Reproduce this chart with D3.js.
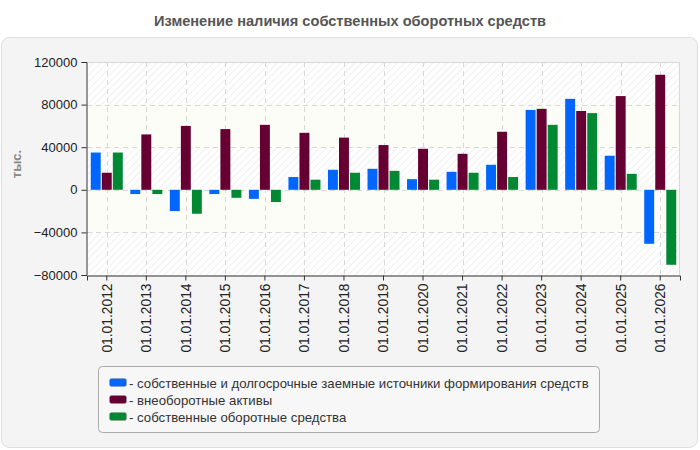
<!DOCTYPE html>
<html>
<head>
<meta charset="utf-8">
<script src="https://cdn.jsdelivr.net/npm/d3@7"></script>
<style>
  body { margin: 0; background: #fff; font-family: "Liberation Sans", Arial, sans-serif; }
</style>
</head>
<body>
<script>
var svgWidth = 700;
var svgHeight = 450;

// data
var dates = ["01.01.2012", "01.01.2013", "01.01.2014", "01.01.2015", "01.01.2016",
  "01.01.2017", "01.01.2018", "01.01.2019", "01.01.2020", "01.01.2021",
  "01.01.2022", "01.01.2023", "01.01.2024", "01.01.2025", "01.01.2026"];
var sources = [35000, -4000, -20000, -4000, -8500, 12000, 18800, 19700, 10000, 16900, 23500, 75000, 85400, 32000, -50700];
var nonCurrent = [16000, 52000, 60000, 57000, 61000, 53500, 49000, 42000, 38500, 33800, 54500, 76000, 74000, 88000, 108000];
var working = [35000, -4000, -22500, -7500, -11500, 9500, 16000, 17800, 9500, 16000, 12000, 61000, 72000, 15000, -70400];
var seriesNames = ["собственные и долгосрочные заемные источники формирования средств",
  "внеоборотные активы", "собственные оборотные средства"];
var seriesColors = ["#0066ff", "#660033", "#008833"];
var yTicks = [-80000, -40000, 0, 40000, 80000, 120000];

var plot = { left: 87, right: 680, top: 62, bottom: 275 };

var svg = d3.select("body").append("svg")
  .attr("width", svgWidth)
  .attr("height", svgHeight);

var defs = svg.append("defs");
var hatch = defs.append("pattern")
  .attr("id", "hatch")
  .attr("patternUnits", "userSpaceOnUse")
  .attr("width", 5).attr("height", 5)
  .attr("patternTransform", "rotate(45)");
hatch.append("rect").attr("width", 5).attr("height", 5).attr("fill", "#ffffff");
hatch.append("line")
  .attr("x1", 0).attr("y1", 0).attr("x2", 0).attr("y2", 5)
  .attr("stroke", "#ececec").attr("stroke-width", 1.5);

// title
svg.append("text")
  .attr("x", svgWidth / 2)
  .attr("y", 26)
  .attr("text-anchor", "middle")
  .style("font-size", "14.6px")
  .style("font-weight", "bold")
  .style("fill", "#555")
  .text("Изменение наличия собственных оборотных средств");

// panel
svg.append("rect")
  .attr("x", 1.5).attr("y", 37.5)
  .attr("width", 696).attr("height", 410)
  .attr("rx", 8)
  .attr("fill", "#f4f4f4")
  .attr("stroke", "#dedede");

var x = d3.scaleBand()
  .domain(dates)
  .range([plot.left, plot.right]);

var groupWidth = 32;
var xs = d3.scaleBand()
  .domain(d3.range(3))
  .range([0, groupWidth])
  .paddingInner(0.1);

var y = d3.scaleLinear()
  .domain([-80000, 120000])
  .range([plot.bottom, plot.top]);

// alternating background bands
var bands = d3.pairs(yTicks);
svg.append("g").selectAll("rect")
  .data(bands)
  .enter()
  .append("rect")
  .attr("x", plot.left)
  .attr("width", plot.right - plot.left)
  .attr("y", d => y(d[1]))
  .attr("height", d => y(d[0]) - y(d[1]))
  .attr("fill", (d, i) => i % 2 === 0 ? "url(#hatch)" : "#fdfdf7");

// grid
var grid = svg.append("g")
  .attr("stroke", "#d8d8d8")
  .attr("stroke-dasharray", "5,4");
grid.selectAll("line.h")
  .data(yTicks.slice(1, -1))
  .enter()
  .append("line")
  .attr("x1", plot.left).attr("x2", plot.right)
  .attr("y1", d => Math.round(y(d)) + 0.5)
  .attr("y2", d => Math.round(y(d)) + 0.5);
grid.selectAll("line.v")
  .data(dates)
  .enter()
  .append("line")
  .attr("y1", plot.top).attr("y2", plot.bottom)
  .attr("x1", d => Math.round(x(d) + x.bandwidth() / 2) + 0.5)
  .attr("x2", d => Math.round(x(d) + x.bandwidth() / 2) + 0.5);

// top / right border
svg.append("path")
  .attr("d", `M${plot.left},${plot.top + 0.5}H${plot.right - 0.5}V${plot.bottom}`)
  .attr("fill", "none")
  .attr("stroke", "#d8d8d8");

// bars
var series = [sources, nonCurrent, working];
var rows = [];
series.forEach(function(vals, s) {
  vals.forEach(function(v, i) {
    rows.push({ date: dates[i], s: s, value: v });
  });
});

svg.append("g").selectAll("rect")
  .data(rows)
  .enter()
  .append("rect")
  .attr("x", d => x(d.date) + (x.bandwidth() - groupWidth) / 2 + xs(d.s))
  .attr("width", xs.bandwidth())
  .attr("y", d => y(Math.max(0, d.value)))
  .attr("height", d => Math.abs(y(d.value) - y(0)))
  .attr("fill", d => seriesColors[d.s]);

// axes
var leftAxis = d3.axisLeft(y).tickValues(yTicks).tickFormat(d3.format("d"))
  .tickSizeOuter(0).tickSize(5).tickPadding(4);
var bottomAxis = d3.axisBottom(x).tickSizeOuter(0).tickSize(5);

var gy = svg.append("g")
  .attr("transform", `translate(${plot.left - 0.5},0)`)
  .call(leftAxis);
gy.selectAll("text")
  .style("font-family", "'Liberation Sans', Arial, sans-serif")
  .style("font-size", "13px")
  .style("fill", "#222");

var gx = svg.append("g")
  .attr("transform", `translate(0,${plot.bottom + 0.5})`)
  .call(bottomAxis);
gx.selectAll("text")
  .style("font-family", "'Liberation Sans', Arial, sans-serif")
  .style("font-size", "13.8px")
  .style("fill", "#222")
  .attr("text-anchor", "end")
  .attr("transform", "rotate(-90)")
  .attr("x", -8)
  .attr("y", 0)
  .attr("dy", "0.35em");

svg.selectAll(".domain").attr("stroke", "#333");
svg.selectAll(".tick line").attr("stroke", "#333");

// y axis label
svg.append("text")
  .attr("transform", "translate(21,164) rotate(-90)")
  .attr("text-anchor", "middle")
  .style("font-size", "13px")
  .style("font-weight", "bold")
  .style("fill", "#888")
  .text("тыс.");

// legend
var legend = svg.append("g");
legend.append("rect")
  .attr("x", 98.5).attr("y", 366.5)
  .attr("width", 501).attr("height", 66)
  .attr("rx", 4)
  .attr("fill", "#f7f7f7")
  .attr("stroke", "#aaa");

var items = legend.selectAll("g.item")
  .data(seriesNames)
  .enter()
  .append("g")
  .attr("transform", (d, i) => `translate(109,${383 + i * 17})`);
items.append("rect")
  .attr("x", 0.5).attr("y", -4.5)
  .attr("width", 17).attr("height", 8)
  .attr("rx", 2)
  .attr("fill", (d, i) => seriesColors[i])
  .attr("stroke", "#999")
  .attr("stroke-width", 0.5);
items.append("text")
  .attr("x", 20)
  .attr("y", 4.5)
  .style("font-size", "13.2px")
  .style("fill", "#333")
  .text(d => "- " + d);
</script>
</body>
</html>
